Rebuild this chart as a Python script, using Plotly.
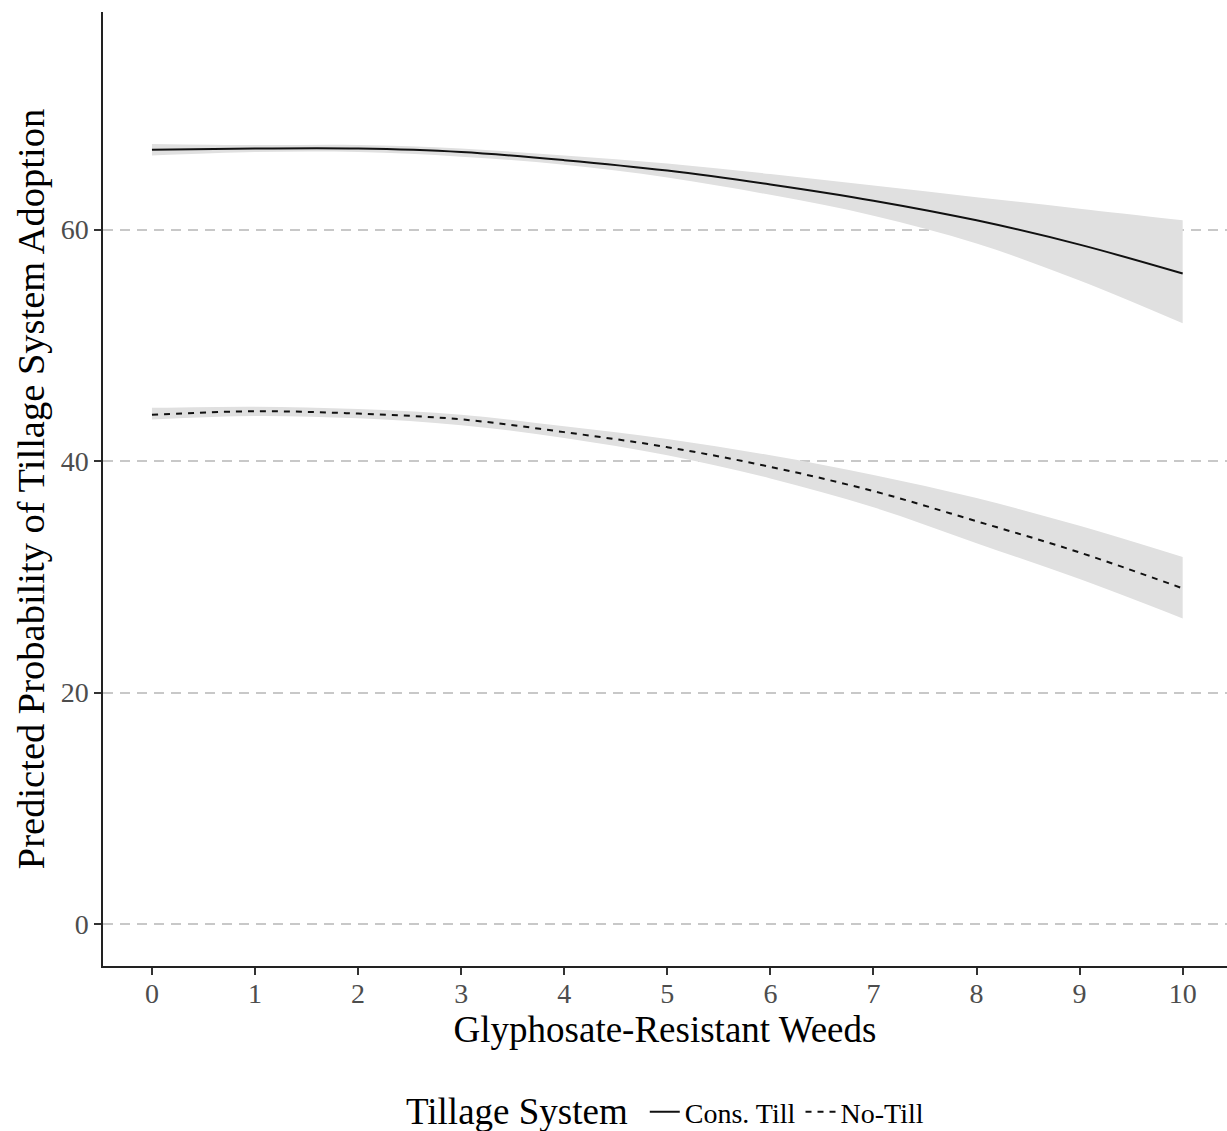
import plotly.graph_objects as go

weeds = [0, 1, 2, 3, 4, 5, 6, 7, 8, 9, 10]

cons_mid = [66.9, 67.0, 67.0, 66.7, 66.0, 65.1, 63.9, 62.5, 60.8, 58.7, 56.2]
cons_hi = [67.4, 67.3, 67.3, 67.0, 66.4, 65.7, 64.8, 63.8, 62.8, 61.8, 60.8]
cons_lo = [66.4, 66.7, 66.7, 66.3, 65.6, 64.5, 63.0, 61.2, 58.8, 55.6, 51.9]

nt_mid = [44.0, 44.3, 44.1, 43.6, 42.5, 41.2, 39.5, 37.4, 34.8, 32.1, 29.0]
nt_hi = [44.6, 44.7, 44.5, 44.0, 43.0, 41.9, 40.5, 38.8, 36.8, 34.4, 31.7]
nt_lo = [43.6, 43.9, 43.7, 43.1, 42.0, 40.5, 38.5, 36.0, 32.9, 29.8, 26.4]

x_ticks = [0, 1, 2, 3, 4, 5, 6, 7, 8, 9, 10]
y_ticks = [0, 20, 40, 60]

FONT = "Liberation Serif"
BAND = "#e0e0e0"

fig = go.Figure()

for hi, lo in [(cons_hi, cons_lo), (nt_hi, nt_lo)]:
    fig.add_trace(go.Scatter(x=weeds, y=hi, mode="lines", line=dict(width=0, shape="spline"),
                             showlegend=False, hoverinfo="skip"))
    fig.add_trace(go.Scatter(x=weeds, y=lo, mode="lines", line=dict(width=0, shape="spline"),
                             fill="tonexty", fillcolor=BAND, showlegend=False, hoverinfo="skip"))

fig.add_trace(go.Scatter(x=weeds, y=cons_mid, mode="lines", name="Cons. Till",
                         line=dict(color="#111111", width=2, shape="spline")))
fig.add_trace(go.Scatter(x=weeds, y=nt_mid, mode="lines", name="No-Till",
                         line=dict(color="#111111", width=2, shape="spline", dash="6px,6px")))

fig.update_layout(
    width=1227, height=1131,
    margin=dict(l=103, r=0, t=12, b=165, autoexpand=False),
    paper_bgcolor="white", plot_bgcolor="white",
    font=dict(family=FONT, color="black"),
    legend=dict(
        orientation="h", x=0.482, xanchor="left", y=-0.153, yanchor="middle",
        traceorder="normal", font=dict(size=28, family=FONT), itemwidth=30,
        bgcolor="rgba(0,0,0,0)",
    ),
    annotations=[dict(
        text="Tillage System", xref="paper", yref="paper", x=0.368, y=-0.153,
        xanchor="center", yanchor="middle", showarrow=False,
        font=dict(size=37, family=FONT, color="black"),
    )],
    xaxis=dict(
        range=[-0.475, 10.43], tickvals=x_ticks, ticktext=[str(v) for v in x_ticks],
        showgrid=False, zeroline=False, automargin=False,
        showline=True, linecolor="#222222", linewidth=1.5,
        ticks="outside", ticklen=7, tickcolor="#333333", tickwidth=1.5,
        tickfont=dict(size=28, color="#4d4d4d", family=FONT), ticklabelstandoff=-5,
        title=dict(text="Glyphosate-Resistant Weeds", font=dict(size=37, family=FONT), standoff=6),
    ),
    yaxis=dict(
        range=[-3.63, 78.8], tickvals=y_ticks, ticktext=[str(v) for v in y_ticks],
        showgrid=True, gridcolor="#c8c8c8", gridwidth=1.5, griddash="10px,7px",
        zeroline=False, automargin=False,
        showline=True, linecolor="#222222", linewidth=1.5,
        ticks="outside", ticklen=7, tickcolor="#333333", tickwidth=1.5,
        tickfont=dict(size=28, color="#4d4d4d", family=FONT),
        title=dict(text="Predicted Probability of Tillage System Adoption",
                   font=dict(size=38.5, family=FONT), standoff=4),
    ),
)

fig.write_html("out.html", config={"displayModeBar": False},
               post_script="document.body.style.margin='0';document.body.style.padding='0';")
